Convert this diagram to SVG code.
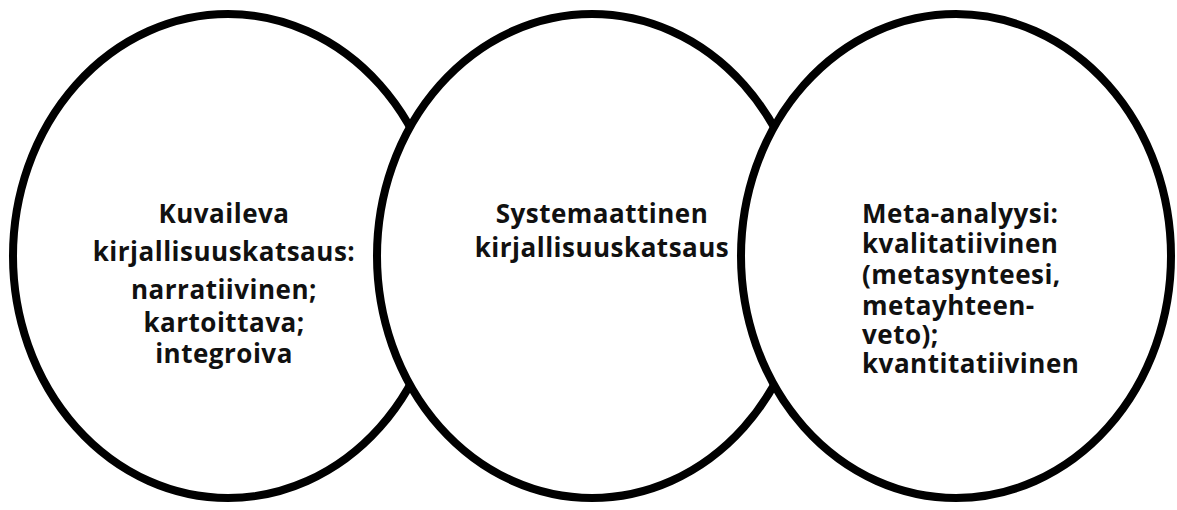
<svg xmlns="http://www.w3.org/2000/svg" width="1177" height="510" viewBox="0 0 1177 510">
<style>
.c{fill:#fff;stroke:#000;stroke-width:8}
.t{font-family:"Open Sans","Noto Sans","Liberation Sans",sans-serif;font-weight:bold;font-size:26px;letter-spacing:0.5px;fill:#111;font-variant-ligatures:none}
.m{text-anchor:middle}
</style>
<rect width="1177" height="510" fill="#fff"/>
<g id="node-kuvaileva">
<ellipse class="c" cx="228" cy="256" rx="215" ry="242"/>
</g>
<g id="node-systemaattinen">
<ellipse class="c" cx="592" cy="256" rx="215" ry="242"/>
</g>
<g id="node-meta">
<ellipse class="c" cx="956" cy="256" rx="215" ry="242"/>
</g>
<g id="connectors"></g>
<g id="labels">
<text class="t m"><tspan x="224" y="223">Kuvaileva</tspan><tspan x="224" y="261">kirjallisuuskatsaus:</tspan><tspan x="224" y="299">narratiivinen;</tspan><tspan x="224" y="332">kartoittava;</tspan><tspan x="224" y="363">integroiva</tspan></text>
<text class="t m"><tspan x="602" y="223">Systemaattinen</tspan><tspan x="602" y="257">kirjallisuuskatsaus</tspan></text>
<text class="t"><tspan x="862" y="223">Meta-analyysi:</tspan><tspan x="862" y="253">kvalitatiivinen</tspan><tspan x="862" y="284">(metasynteesi,</tspan><tspan x="862" y="315">metayhteen-</tspan><tspan x="862" y="344">veto);</tspan><tspan x="862" y="373">kvantitatiivinen</tspan></text>
</g>
</svg>
